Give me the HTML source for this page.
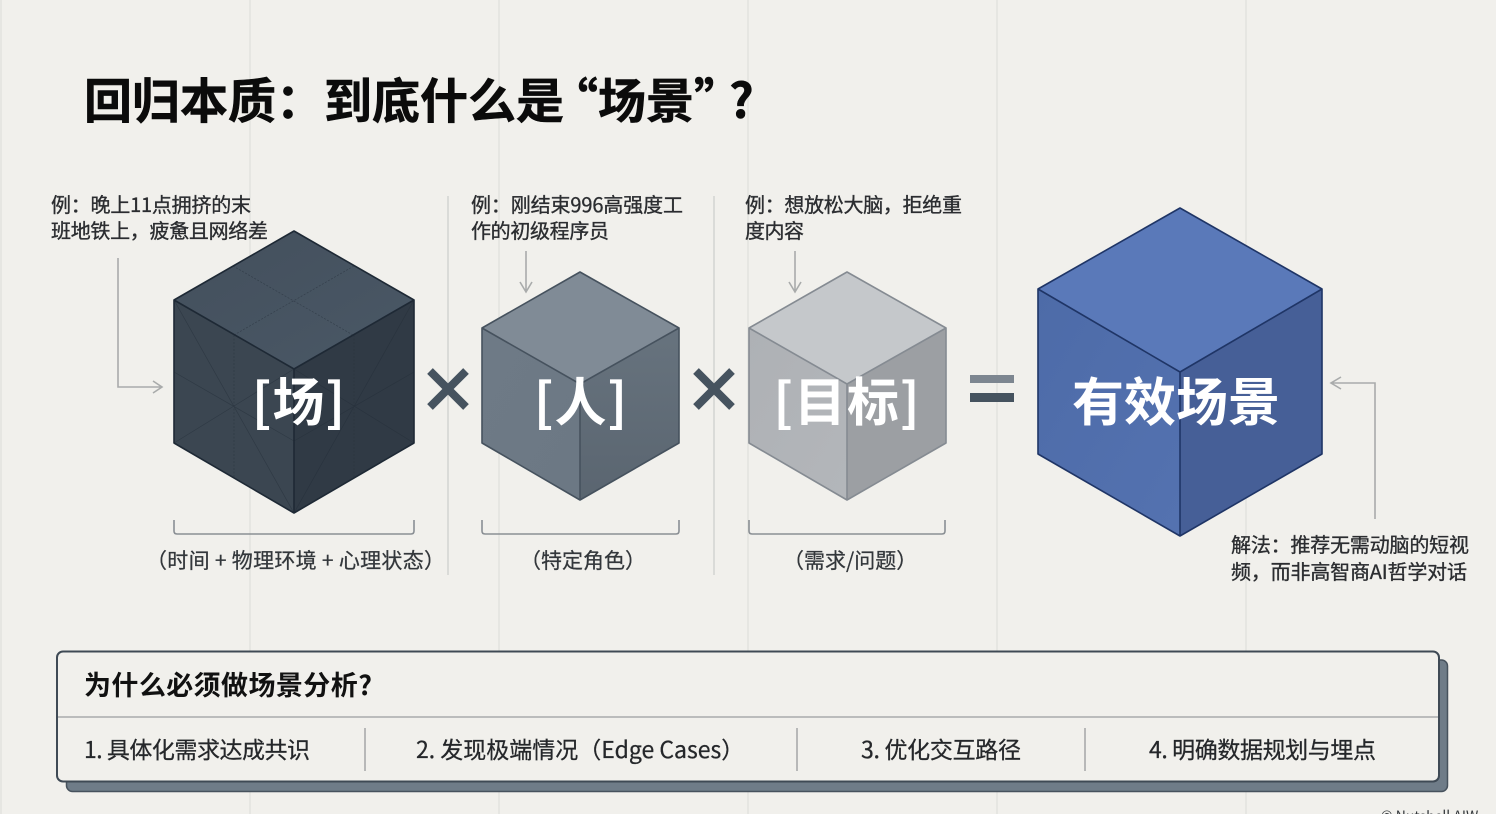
<!DOCTYPE html>
<html lang="zh-CN">
<head>
<meta charset="utf-8">
<title>回归本质&#xFF1A;到底什么是“场景”?</title>
<style>
html,body{margin:0;padding:0;background:#f1f0ec;width:1496px;height:814px;overflow:hidden}
svg{display:block;position:absolute;left:0;top:0;filter:blur(0.35px)}
text{font-family:"Noto Sans CJK SC","Liberation Sans",sans-serif;}
.a{font-size:20px;fill:#2b2d30;stroke:#2b2d30;stroke-width:.35px}
.b{font-size:21px;fill:#33373b;stroke:#33373b;stroke-width:.25px}
.w{font-size:52px;font-weight:700;fill:#fff;text-anchor:middle;letter-spacing:1px}
.f{font-size:23px;fill:#25272a;stroke:#25272a;stroke-width:.25px}
.t{font-size:48px;font-weight:700;fill:#0b0b0b;stroke:#0b0b0b;stroke-width:.6px}
</style>
</head>
<body>
<svg width="1496" height="814" viewBox="0 0 1496 814" xmlns="http://www.w3.org/2000/svg">
<defs>
<linearGradient id="g1t" x1="0" y1="0" x2="1" y2="1"><stop offset="0" stop-color="#434f5c"/><stop offset="1" stop-color="#4a5866"/></linearGradient>
<linearGradient id="g2l" x1="0" y1="0" x2="1" y2="1"><stop offset="0" stop-color="#6e7a86"/><stop offset="1" stop-color="#6c7884"/></linearGradient>
<linearGradient id="g2r" x1="0" y1="0" x2="0" y2="1"><stop offset="0" stop-color="#67737e"/><stop offset="1" stop-color="#5a6570"/></linearGradient>
<linearGradient id="g3l" x1="0" y1="0" x2="1" y2="1"><stop offset="0" stop-color="#aeb1b5"/><stop offset="1" stop-color="#b3b6ba"/></linearGradient>
<linearGradient id="g4l" x1="0" y1="0" x2="1" y2="1"><stop offset="0" stop-color="#4d6ba8"/><stop offset="1" stop-color="#5472b0"/></linearGradient>
</defs>

<rect width="1496" height="814" fill="#f1f0ec"/>
<g stroke="#e2e2de" stroke-width="1.5">
<path d="M250 0V814M499 0V814M748 0V814M997 0V814M1246 0V814M1 0V814"/>
</g>
<g stroke="#d3d4d1" stroke-width="1.5">
<path d="M448 196V575M714 196V575"/>
</g>

<text class="t" x="84" y="118">回归本质&#xFF1A;到底什么是</text>
<text class="t" x="598" y="118" text-anchor="end">“</text>
<text class="t" x="598" y="118">场景</text>
<text class="t" x="694" y="118">”</text>
<text class="t" x="729" y="118">?</text>

<!-- Cube 1 -->
<polygon points="294,231 414,300 294,369 174,300" fill="url(#g1t)"/>
<polygon points="174,300 294,369 294,513 174,443" fill="#3b4651"/>
<polygon points="414,300 294,369 294,513 414,443" fill="#303a45"/>
<g stroke="#232d38" stroke-width="0.7" fill="none" opacity=".5">
<path d="M233 266L353 335M354 266L234 335" stroke-dasharray="2 1.5"/>
<path d="M234 335V478M354 335V478" stroke-dasharray="2 1.5"/>
<path d="M174 300L294 513M174 372L294 441M294 369L174 443"/>
<path d="M414 300L294 513M414 372L294 441M294 369L414 443"/>
</g>
<path d="M294 231L414 300V443L294 513L174 443V300ZM174 300L294 369L414 300M294 369V513" fill="none" stroke="#1e2935" stroke-width="1.6" stroke-linejoin="round"/>

<!-- Cube 2 -->
<polygon points="580,272 679,328 580,384 482,328" fill="#808b96"/>
<polygon points="482,328 580,384 580,500 482,443" fill="url(#g2l)"/>
<polygon points="679,328 580,384 580,500 679,443" fill="url(#g2r)"/>
<path d="M580 272L679 328V443L580 500L482 443V328ZM482 328L580 384L679 328M580 384V500" fill="none" stroke="#46525e" stroke-width="1.6" stroke-linejoin="round"/>

<!-- Cube 3 -->
<polygon points="847,272 946,328 847,384 749,328" fill="#c5c8cb"/>
<polygon points="749,328 847,384 847,500 749,443" fill="url(#g3l)"/>
<polygon points="946,328 847,384 847,500 946,443" fill="#9c9fa3"/>
<path d="M847 272L946 328V443L847 500L749 443V328ZM749 328L847 384L946 328M847 384V500" fill="none" stroke="#858b92" stroke-width="1.6" stroke-linejoin="round"/>

<!-- Cube 4 -->
<polygon points="1180,208 1322,289 1180,372 1038,289" fill="#5a79b9"/>
<polygon points="1038,289 1180,372 1180,536 1038,454" fill="url(#g4l)"/>
<polygon points="1322,289 1180,372 1180,536 1322,454" fill="#465f97"/>
<path d="M1180 208L1322 289V454L1180 536L1038 454V289ZM1038 289L1180 372L1322 289M1180 372V536" fill="none" stroke="#1f3566" stroke-width="1.6" stroke-linejoin="round"/>

<!-- Cube labels -->
<text class="w" x="299" y="421">[场]</text>
<text class="w" x="581" y="421">[人]</text>
<text class="w" x="847" y="421">[目标]</text>
<text class="w" x="1176" y="421" style="letter-spacing:0">有效场景</text>

<!-- Operators -->
<g stroke="#46535f" stroke-width="8" fill="none">
<path d="M430 371L466 407M466 371L430 407"/>
<path d="M696 371L732 407M732 371L696 407"/>
</g>
<rect x="970" y="375" width="44" height="8" fill="#7d8690"/>
<rect x="970" y="393" width="44" height="9" fill="#46535f"/>

<!-- Annotation arrows -->
<g stroke="#a9abab" stroke-width="1.6" fill="none">
<path d="M118 258V387H162M153 381L162 387L153 393"/>
<path d="M526 251V292M520 282L526 292L532 282"/>
<path d="M795 251V292M789 282L795 292L801 282"/>
<path d="M1375 519V383H1331M1341 377L1331 383L1341 389"/>
</g>

<!-- Brackets -->
<g stroke="#8a8f94" stroke-width="1.6" fill="none">
<path d="M174 520V531Q174 534 177 534H411Q414 534 414 531V520"/>
<path d="M482 520V531Q482 534 485 534H676Q679 534 679 531V520"/>
<path d="M749 520V531Q749 534 752 534H942Q945 534 945 531V520"/>
</g>

<!-- Annotation text -->
<text class="a" x="51" y="212" textLength="200" lengthAdjust="spacing">例&#xFF1A;晚上11点拥挤的末</text>
<text class="a" x="51" y="238" textLength="217" lengthAdjust="spacing">班地铁上&#xFF0C;疲惫且网络差</text>
<text class="a" x="471" y="212" textLength="212" lengthAdjust="spacing">例&#xFF1A;刚结束996高强度工</text>
<text class="a" x="471" y="238" textLength="138" lengthAdjust="spacing">作的初级程序员</text>
<text class="a" x="745" y="212" textLength="217" lengthAdjust="spacing">例&#xFF1A;想放松大脑&#xFF0C;拒绝重</text>
<text class="a" x="745" y="238" textLength="59" lengthAdjust="spacing">度内容</text>
<text class="a" x="1231" y="552" textLength="238" lengthAdjust="spacing">解法&#xFF1A;推荐无需动脑的短视</text>
<text class="a" x="1231" y="579" textLength="236" lengthAdjust="spacing">频&#xFF0C;而非高智商AI哲学对话</text>

<text class="b" x="146" y="568" textLength="299" lengthAdjust="spacing">&#xFF08;时间 + 物理环境 + 心理状态&#xFF09;</text>
<text class="b" x="520" y="568">&#xFF08;特定角色&#xFF09;</text>
<text class="b" x="783" y="568">&#xFF08;需求/问题&#xFF09;</text>

<!-- Footer panel -->
<rect x="66.5" y="660" width="1381" height="131.5" rx="6" fill="#6f7c88" stroke="#47525d" stroke-width="1.5"/>
<rect x="57" y="651.5" width="1382" height="130" rx="6" fill="#f1f0ec" stroke="#3f4a55" stroke-width="2"/>
<path d="M58 717H1438" stroke="#a9abab" stroke-width="1.6"/>
<g stroke="#a9abab" stroke-width="1.6">
<path d="M365 728V771M797 728V771M1085 728V771"/>
</g>
<text x="84" y="695" font-size="27" font-weight="700" fill="#111" textLength="288" lengthAdjust="spacing">为什么必须做场景分析?</text>
<text class="f" x="84" y="758" textLength="226" lengthAdjust="spacing">1. 具体化需求达成共识</text>
<text class="f" x="416" y="758">2. 发现极端情况&#xFF08;Edge Cases&#xFF09;</text>
<text class="f" x="861" y="758" textLength="160" lengthAdjust="spacing">3. 优化交互路径</text>
<text class="f" x="1149" y="758" textLength="227" lengthAdjust="spacing">4. 明确数据规划与埋点</text>

<text x="1381" y="821" font-size="14" fill="#33373b">© Nutshell AIW</text>
</svg>
</body>
</html>
